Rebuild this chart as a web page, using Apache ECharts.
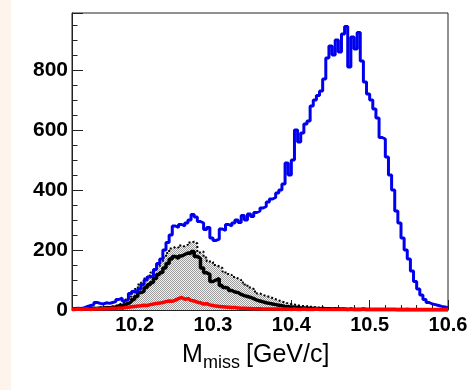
<!DOCTYPE html>
<html>
<head>
<meta charset="utf-8">
<script src="https://cdn.jsdelivr.net/npm/echarts@6/dist/echarts.min.js"></script>
<style>
html,body{margin:0;padding:0;background:#fff;}
#c{width:472px;height:390px;}
</style>
</head>
<body>
<div id="c"></div>
<script>
// Histogram binning (GeV/c): 120 bins of 0.004 from 10.12 to 10.60
const binStart = 10.12;
const binWidth = 0.004;
const xTickLabels = ['10.2', '10.3', '10.4', '10.5', '10.6'];
const yTickLabels = ['0', '200', '400', '600', '800'];

// Blue histogram (all candidates)
const blueCounts = [
  5, 6, 5, 8, 12, 15, 18, 25, 22, 20,
  24, 22, 25, 28, 35, 40, 30, 35, 55, 62,
  60, 70, 85, 100, 110, 112, 135, 155, 170, 200,
  225, 250, 280, 275, 285, 280, 290, 300, 318, 310,
  295, 290, 268, 275, 240, 232, 236, 270, 265, 285,
  280, 290, 300, 292, 315, 300, 320, 312, 325, 330,
  340, 345, 360, 370, 375, 390, 400, 420, 490, 450,
  500, 600, 560, 590, 620, 630, 680, 700, 715, 730,
  770, 840, 880, 850, 900, 860, 920, 945, 810, 910,
  870, 925, 830, 760, 720, 700, 670, 640, 575, 570,
  510, 450, 400, 330, 290, 240, 200, 170, 130, 95,
  70, 50, 35, 25, 20, 18, 15, 12, 10, 8
];

// Grey shaded histogram (dotted outline)
const greyCounts = [
  4, 5, 4, 5, 6, 6, 7, 7, 8, 8,
  10, 10, 12, 14, 18, 22, 28, 35, 45, 55,
  70, 85, 92, 105, 115, 125, 135, 145, 160, 175,
  190, 205, 210, 208, 215, 212, 218, 225, 228, 222,
  192, 195, 175, 162, 160, 150, 145, 140, 128, 120,
  117, 110, 105, 100, 92, 85, 75, 70, 62, 55,
  50, 47, 44, 40, 36, 32, 28, 25, 22, 20,
  18, 16, 14, 13, 12, 11, 10, 9, 8, 8,
  7, 6, 6, 5, 5, 5, 4, 4, 4, 4,
  4, 3, 4, 3, 3, 4, 3, 3, 3, 3,
  3, 3, 2, 3, 3, 2, 3, 2, 2, 3,
  2, 2, 2, 2, 2, 2, 2, 2, 2, 2
];

// Black histogram (solid)
const blackCounts = [
  3, 4, 3, 4, 5, 5, 6, 5, 7, 6,
  8, 7, 9, 10, 14, 15, 18, 22, 28, 35,
  45, 58, 62, 75, 84, 92, 105, 118, 125, 140,
  155, 170, 178, 172, 180, 185, 190, 188, 195, 178,
  172, 140, 124, 118, 95, 100, 105, 82, 75, 72,
  65, 60, 58, 52, 48, 45, 42, 38, 33, 30,
  27, 24, 22, 20, 18, 16, 14, 12, 11, 10,
  9, 8, 7, 7, 6, 6, 5, 5, 4, 5,
  4, 4, 3, 4, 3, 3, 3, 2, 3, 2,
  2, 2, 3, 2, 2, 2, 2, 2, 2, 2,
  2, 2, 2, 1, 2, 1, 2, 1, 1, 1,
  1, 1, 1, 1, 1, 1, 1, 1, 1, 1
];

// Red histogram
const redCounts = [
  2, 3, 2, 3, 3, 2, 3, 4, 3, 4,
  5, 4, 6, 5, 7, 6, 8, 9, 11, 12,
  13, 14, 16, 15, 18, 20, 22, 23, 25, 28,
  30, 29, 33, 38, 42, 36, 38, 32, 30, 26,
  24, 20, 21, 17, 15, 13, 12, 11, 10, 9,
  8, 8, 7, 6, 6, 5, 5, 4, 4, 4,
  3, 3, 3, 3, 3, 3, 2, 3, 3, 2,
  3, 2, 2, 3, 2, 2, 2, 3, 2, 2,
  2, 2, 2, 2, 2, 2, 2, 2, 2, 2,
  2, 2, 2, 2, 2, 2, 2, 2, 2, 2,
  2, 2, 2, 2, 2, 2, 2, 2, 2, 2,
  2, 2, 2, 2, 2, 2, 2, 2, 2, 2
];

function toSteps(counts) {
  const pts = counts.map((v, i) => [Math.round((binStart + i * binWidth) * 10000) / 10000, v]);
  pts.push([Math.round((binStart + counts.length * binWidth) * 10000) / 10000, counts[counts.length - 1]]);
  return pts;
}

// stipple pattern for the shaded histogram
const pc = document.createElement('canvas');
pc.width = 2; pc.height = 2;
const pctx = pc.getContext('2d');
pctx.fillStyle = '#f2f2f2'; pctx.fillRect(0, 0, 2, 2);
pctx.fillStyle = '#9c9c9c'; pctx.fillRect(0, 0, 1, 1); pctx.fillRect(1, 1, 1, 1);

const FONT = '"Liberation Sans", Arial, Helvetica, sans-serif';
const chart = echarts.init(document.getElementById('c'), null, {renderer: 'canvas'});
chart.setOption({
  animation: false,
  backgroundColor: '#ffffff',
  grid: {left: 72, right: 24, top: 13, bottom: 80, show: true, borderColor: '#222', borderWidth: 1, backgroundColor: 'transparent'},
  xAxis: {
    type: 'value', min: 10.12, max: 10.6,
    axisLine: {show: true, lineStyle: {color: '#222', width: 1}},
    axisTick: {show: true, inside: true, length: 10, lineStyle: {color: '#222'}},
    minorTick: {show: true, splitNumber: 5, length: 5, lineStyle: {color: '#222'}},
    splitLine: {show: false},
    axisLabel: {
      showMinLabel: false, margin: 5, color: '#000', fontWeight: 'bold', fontSize: 20, fontFamily: FONT,
      formatter: function (v) { const s = v.toFixed(1); return xTickLabels.indexOf(s) >= 0 ? s : ''; }
    }
  },
  yAxis: {
    type: 'value', min: 0, max: 990, interval: 200,
    axisLine: {show: true, lineStyle: {color: '#222', width: 1}},
    axisTick: {show: true, inside: true, length: 11, lineStyle: {color: '#222'}},
    minorTick: {show: true, splitNumber: 4, length: 5.5, lineStyle: {color: '#222'}},
    splitLine: {show: false},
    axisLabel: {
      showMaxLabel: false, margin: 4, color: '#000', fontWeight: 'bold', fontSize: 21, fontFamily: FONT,
      formatter: function (v) { const s = String(v); return yTickLabels.indexOf(s) >= 0 ? s : ''; }
    }
  },
  graphic: [
    {type: 'rect', left: 0, top: 0, shape: {width: 11, height: 390}, style: {fill: '#fdf4ec'}, z: -10},
    {type: 'text', x: 182, y: 355, style: {text: 'M', fontSize: 25, fontFamily: FONT, fill: '#000', verticalAlign: 'middle'}},
    {type: 'text', x: 203, y: 363, style: {text: 'miss', fontSize: 18, fontFamily: FONT, fill: '#000', verticalAlign: 'middle'}},
    {type: 'text', x: 246, y: 355, style: {text: '[GeV/c]', fontSize: 25, fontFamily: FONT, fill: '#000', verticalAlign: 'middle'}}
  ],
  series: [
    {
      type: 'line', step: 'end', symbol: 'none', data: toSteps(greyCounts), z: 1,
      lineStyle: {color: '#000', width: 2, type: 'dotted'},
      areaStyle: {color: {image: pc, repeat: 'repeat'}, opacity: 1}
    },
    {type: 'line', step: 'end', symbol: 'none', data: toSteps(blackCounts), z: 2, lineStyle: {color: '#000', width: 3.5}},
    {type: 'line', step: 'end', symbol: 'none', data: toSteps(blueCounts), z: 3, lineStyle: {color: '#0000ee', width: 3}},
    {type: 'line', step: 'end', symbol: 'none', data: toSteps(redCounts), z: 4, lineStyle: {color: '#ff0000', width: 3.5}}
  ]
});
</script>
</body>
</html>
